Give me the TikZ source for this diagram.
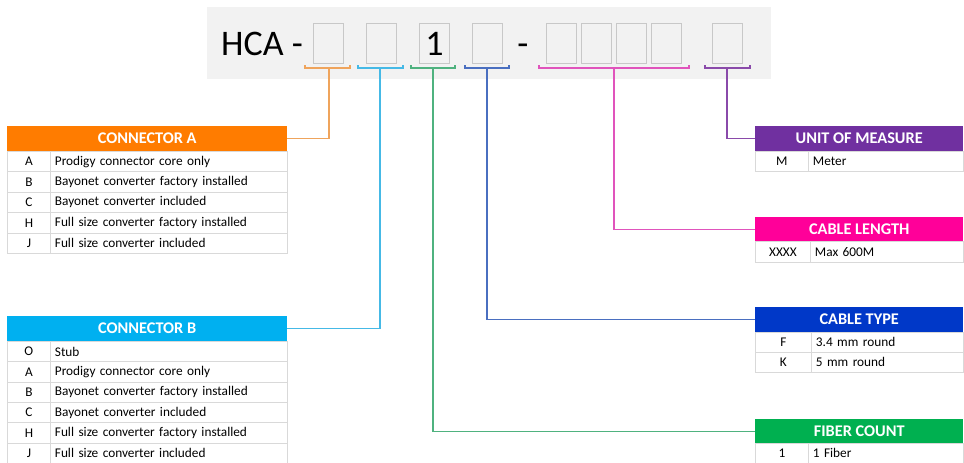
\documentclass[tikz,border=0pt]{standalone}
\usepackage{fontspec}
\setmainfont{Carlito}
\usepackage{tikz}

\definecolor{clrA}{HTML}{FF7C00}
\definecolor{clrB}{HTML}{00B0F0}
\definecolor{clrFib}{HTML}{00B050}
\definecolor{clrType}{HTML}{0038C8}
\definecolor{clrLen}{HTML}{FF0099}
\definecolor{clrUnit}{HTML}{7030A0}
\definecolor{lineA}{HTML}{EFA45C}
\definecolor{lineB}{HTML}{45B9E6}
\definecolor{lineFib}{HTML}{4FB27F}
\definecolor{lineType}{HTML}{4A6FC0}
\definecolor{lineLen}{HTML}{E054BC}
\definecolor{lineUnit}{HTML}{8A4AAA}
\definecolor{cellgray}{HTML}{D9D9D9}
\definecolor{bargray}{HTML}{F2F2F2}
\definecolor{boxgray}{HTML}{C8C8C8}

\tikzset{
    hdr/.style={fill=#1, text=white, anchor=north west, inner sep=0pt,
        font=\bfseries\fontsize{16.3}{17}\selectfont},
    keycell/.style={draw=cellgray, line width=0.8pt, anchor=north west, inner sep=0pt,
        font=\fontsize{13.3}{14}\selectfont},
    desccell/.style={draw=cellgray, line width=0.8pt, anchor=north west, inner ysep=0pt,
        inner xsep=4.5pt, align=left, font=\fontsize{13.3}{14}\selectfont},
    digit/.style={draw=boxgray, line width=0.9pt, fill=bargray, anchor=north west,
        minimum width=30pt, minimum height=40pt, inner sep=0pt,
        font=\fontsize{36}{36}\selectfont},
    link/.style={draw=#1, line width=1.2pt}
}

\begin{document}
\begin{tikzpicture}[x=1pt, y=-1pt]
        \useasboundingbox (0,0) rectangle (964,463);

        % Part number bar
        \fill[bargray] (207,7) rectangle (771,79);
        \node[anchor=base west, inner sep=0pt, font=\fontsize{36}{36}\selectfont] (code) at (221,55) {HCA -};
        \node[digit] (d1) at (313,23) {};
        \node[digit] (d2) at (366,23) {};
        \node[digit] (d3) at (419,23) {1};
        \node[digit] (d4) at (472,23) {};
        \node[anchor=base, inner sep=0pt, font=\fontsize{36}{36}\selectfont] (dash) at (523,55) {-};
        \node[digit] (d5) at (546,23) {};
        \node[digit] (d6) at (581,23) {};
        \node[digit] (d7) at (616,23) {};
        \node[digit] (d8) at (651,23) {};
        \node[digit] (d9) at (712,23) {};

        % Brackets
        \draw[link=lineA] (305,65) |- (350,68) -- (350,65);
        \draw[link=lineB] (358,65) |- (403,68) -- (403,65);
        \draw[link=lineFib] (411,65) |- (455,68) -- (455,65);
        \draw[link=lineType] (465,65) |- (509,68) -- (509,65);
        \draw[link=lineLen] (539,65) |- (689,68) -- (689,65);
        \draw[link=lineUnit] (705,65) |- (750,68) -- (750,65);
        \coordinate (tA) at (329,68);
        \coordinate (tB) at (380,68);
        \coordinate (tFib) at (433,68);
        \coordinate (tType) at (487,68);
        \coordinate (tLen) at (614,68);
        \coordinate (tUnit) at (727,68);

        % Connector A
        \node[hdr=clrA, minimum width=280pt, minimum height=25pt] (hA) at (7,126) {CONNECTOR A};
        \node[keycell, minimum width=43pt, minimum height=20.4pt] (a1) at (7,151) {A};
        \node[desccell, text width=228pt, minimum height=20.4pt] (a1t) at (50,151) {Prodigy connector core only};
        \node[keycell, minimum width=43pt, minimum height=20.4pt] (a2) at (7,171.4) {B};
        \node[desccell, text width=228pt, minimum height=20.4pt] (a2t) at (50,171.4) {Bayonet converter factory installed};
        \node[keycell, minimum width=43pt, minimum height=20.4pt] (a3) at (7,191.8) {C};
        \node[desccell, text width=228pt, minimum height=20.4pt] (a3t) at (50,191.8) {Bayonet converter included};
        \node[keycell, minimum width=43pt, minimum height=20.4pt] (a4) at (7,212.2) {H};
        \node[desccell, text width=228pt, minimum height=20.4pt] (a4t) at (50,212.2) {Full size converter factory installed};
        \node[keycell, minimum width=43pt, minimum height=20.4pt] (a5) at (7,232.6) {J};
        \node[desccell, text width=228pt, minimum height=20.4pt] (a5t) at (50,232.6) {Full size converter included};

        % Connector B
        \node[hdr=clrB, minimum width=280pt, minimum height=25pt] (hB) at (7,316) {CONNECTOR B};
        \node[keycell, minimum width=43pt, minimum height=20.3pt] (b1) at (7,341) {O};
        \node[desccell, text width=228pt, minimum height=20.3pt] (b1t) at (50,341) {Stub};
        \node[keycell, minimum width=43pt, minimum height=20.3pt] (b2) at (7,361.3) {A};
        \node[desccell, text width=228pt, minimum height=20.3pt] (b2t) at (50,361.3) {Prodigy connector core only};
        \node[keycell, minimum width=43pt, minimum height=20.3pt] (b3) at (7,381.6) {B};
        \node[desccell, text width=228pt, minimum height=20.3pt] (b3t) at (50,381.6) {Bayonet converter factory installed};
        \node[keycell, minimum width=43pt, minimum height=20.3pt] (b4) at (7,401.9) {C};
        \node[desccell, text width=228pt, minimum height=20.3pt] (b4t) at (50,401.9) {Bayonet converter included};
        \node[keycell, minimum width=43pt, minimum height=20.3pt] (b5) at (7,422.2) {H};
        \node[desccell, text width=228pt, minimum height=20.3pt] (b5t) at (50,422.2) {Full size converter factory installed};
        \node[keycell, minimum width=43pt, minimum height=20.3pt] (b6) at (7,442.5) {J};
        \node[desccell, text width=228pt, minimum height=20.3pt] (b6t) at (50,442.5) {Full size converter included};

        % Unit of measure
        \node[hdr=clrUnit, minimum width=208pt, minimum height=25pt] (hUnit) at (755,126) {UNIT OF MEASURE};
        \node[keycell, minimum width=53pt, minimum height=20pt] (u1) at (755,151) {M};
        \node[desccell, text width=146pt, minimum height=20pt] (u1t) at (808,151) {Meter};

        % Cable length
        \node[hdr=clrLen, minimum width=208pt, minimum height=24pt] (hLen) at (755,217) {CABLE LENGTH};
        \node[keycell, minimum width=55pt, minimum height=21pt] (l1) at (755,241) {XXXX};
        \node[desccell, text width=144pt, minimum height=21pt] (l1t) at (810,241) {Max 600M};

        % Cable type
        \node[hdr=clrType, minimum width=208pt, minimum height=25pt] (hType) at (755,307) {CABLE TYPE};
        \node[keycell, minimum width=56pt, minimum height=20pt] (c1) at (755,332) {F};
        \node[desccell, text width=143pt, minimum height=20pt] (c1t) at (811,332) {3.4 mm round};
        \node[keycell, minimum width=56pt, minimum height=20pt] (c2) at (755,352) {K};
        \node[desccell, text width=143pt, minimum height=20pt] (c2t) at (811,352) {5 mm round};

        % Fiber count
        \node[hdr=clrFib, minimum width=208pt, minimum height=24pt] (hFib) at (755,419) {FIBER COUNT};
        \node[keycell, minimum width=53pt, minimum height=20pt] (f1) at (755,443) {1};
        \node[desccell, text width=146pt, minimum height=20pt] (f1t) at (808,443) {1 Fiber};

        % Edges
        \draw[link=lineA] (tA) |- (hA.east);
        \draw[link=lineB] (tB) |- (hB.east);
        \draw[link=lineFib] (tFib) |- (hFib.west);
        \draw[link=lineType] (tType) |- (hType.west);
        \draw[link=lineLen] (tLen) |- (hLen.west);
        \draw[link=lineUnit] (tUnit) |- (hUnit.west);
    \end{tikzpicture}
\end{document}
